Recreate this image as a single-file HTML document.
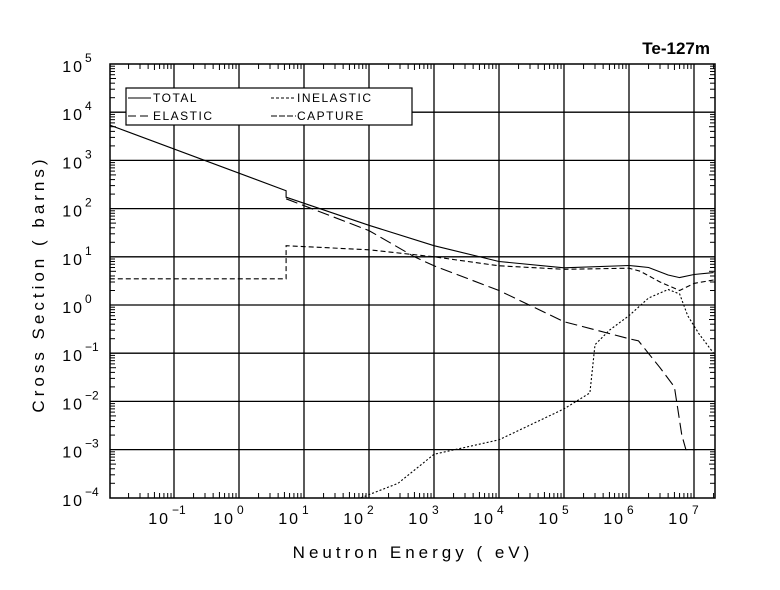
<!DOCTYPE html>
<html><head><meta charset="utf-8"><style>
body{margin:0;background:#fff}
svg{display:block}
text{font-family:"Liberation Sans",sans-serif;fill:#000}
</style></head><body>
<svg id="s" width="780" height="590" xmlns="http://www.w3.org/2000/svg">
<rect width="780" height="590" fill="#fff"/>
<text x="710" y="54" font-size="17" font-weight="bold" text-anchor="end">Te-127m</text>
<text transform="translate(44,284) rotate(-90)" font-size="17" text-anchor="middle" letter-spacing="4">Cross Section ( barns)</text>
<text x="413" y="558" font-size="17" text-anchor="middle" letter-spacing="4">Neutron Energy ( eV)</text>
<g id="g"></g>
<rect x="126" y="88" width="286" height="37" fill="#fff" stroke="#000" stroke-width="1.2"/>
<line x1="128" y1="98" x2="151" y2="98" stroke="#000"/>
<text x="153" y="102" font-size="12" letter-spacing="1.5">TOTAL</text>
<line x1="128" y1="116" x2="151" y2="116" stroke="#000" stroke-dasharray="8,4"/>
<text x="153" y="120" font-size="12" letter-spacing="1.5">ELASTIC</text>
<line x1="271" y1="98" x2="296" y2="98" stroke="#000" stroke-dasharray="3,2"/>
<text x="297" y="102" font-size="12" letter-spacing="1.5">INELASTIC</text>
<line x1="271" y1="116" x2="296" y2="116" stroke="#000" stroke-dasharray="6,2"/>
<text x="297" y="120" font-size="12" letter-spacing="1.5">CAPTURE</text>
</svg>
<script>
var g=document.getElementById('g'),NS='http://www.w3.org/2000/svg';
function X(e){return 239+65*Math.log10(e)}
function Y(s){return 64+(5-Math.log10(s))*48.2}
function el(t,a){var e=document.createElementNS(NS,t);for(var k in a)e.setAttribute(k,a[k]);g.appendChild(e);return e}
var L=110,R=715,T=64,B=498;
for(var d=-1;d<=7;d++){var x=X(Math.pow(10,d));el('line',{x1:x,y1:T,x2:x,y2:B,stroke:'#000','stroke-width':1.3});
 var t=el('text',{x:x-4,y:524,'font-size':16,'text-anchor':'end','letter-spacing':2});t.textContent='10';
 var s=el('text',{x:x-2,y:514,'font-size':12});s.textContent=String(d).replace('-','\u2212');}
for(var d=-4;d<=5;d++){var y=Y(Math.pow(10,d));if(d>-4&&d<5)el('line',{x1:L,y1:y,x2:R,y2:y,stroke:'#000','stroke-width':1.3});
 var t=el('text',{x:84,y:y+8,'font-size':16,'text-anchor':'end','letter-spacing':2});t.textContent='10';
 var s=el('text',{x:85,y:y-2,'font-size':12});s.textContent=String(d).replace('-','\u2212');}
el('rect',{x:L,y:T,width:R-L,height:B-T,fill:'none',stroke:'#000','stroke-width':1.5});
for(var d=-2;d<=7;d++)for(var m=2;m<=9;m++){var x=X(m*Math.pow(10,d));if(x<=L||x>=R)continue;var len=(m==5)?6:5;
 el('line',{x1:x,y1:T,x2:x,y2:T+len,stroke:'#000'});el('line',{x1:x,y1:B,x2:x,y2:B-len,stroke:'#000'});}
for(var d=-4;d<5;d++)for(var m=2;m<=9;m++){var y=Y(m*Math.pow(10,d));var len=(m==5)?6:5;
 el('line',{x1:L,y1:y,x2:L+len,y2:y,stroke:'#000'});el('line',{x1:R,y1:y,x2:R-len,y2:y,stroke:'#000'});}
function curve(pts,dash){var p=pts.map(function(q){return X(q[0]).toFixed(1)+','+Y(q[1]).toFixed(1)}).join(' ');
 var a={points:p,fill:'none',stroke:'#000','stroke-width':1.1};if(dash)a['stroke-dasharray']=dash;el('polyline',a);}
curve([[0.0103,5400],[5.3,235],[5.3,172],[100,45],[1e3,17],[1e4,8],[1e5,5.9],[1e6,6.6],[2e6,6],[4e6,4.2],[6e6,3.7],[1e7,4.3],[2e7,4.7]]);
curve([[5.3,160],[100,35],[500,10],[1e3,6.5],[1e4,2],[1e5,0.45],[1e6,0.2],[1.4e6,0.18],[3e6,0.05],[5e6,0.02],[6.5e6,0.002],[7.5e6,0.001],[1.1e7,0.001]],'12,5');
curve([[0.0103,3.5],[5.3,3.5],[5.3,17],[100,14],[1e3,10],[1e4,6.5],[1e5,5.5],[1e6,5.8],[1.5e6,5],[3e6,3],[6e6,2],[1e7,2.8],[2e7,3.3]],'5,3');
curve([[75,1e-4],[280,2e-4],[1e3,8e-4],[1e4,0.0016],[1e5,0.007],[2.5e5,0.015],[3e5,0.15],[5e5,0.3],[1e6,0.6],[2e6,1.4],[4e6,2.1],[6e6,1.7],[8e6,0.6],[1.2e7,0.25],[2e7,0.1]],'2,2');
</script>
</body></html>
